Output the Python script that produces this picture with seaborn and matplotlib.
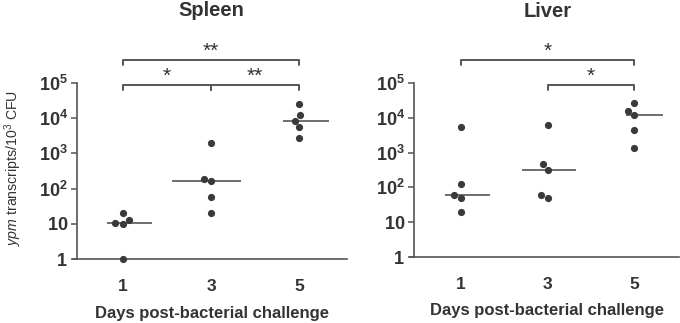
import numpy as np
import pandas as pd
import matplotlib
matplotlib.use("Agg")
import matplotlib.pyplot as plt
import matplotlib.transforms as mtransforms
import seaborn as sns

# values (ypm transcripts / 10^3 CFU)
days = [1, 3, 5]
spleen_d1 = [20.6, 10.7, 9.8, 12.8, 1.0]
spleen_d3 = [2000, 164, 182, 57, 20]
spleen_d5 = [26000, 12000, 8500, 5700, 2700]
liver_d1 = [5300, 123, 61, 50, 20]
liver_d3 = [6100, 470, 316, 50, 61]
liver_d5 = [27000, 15800, 12300, 4400, 1400]

ytick_vals = [1, 10, 100, 1000, 10000, 100000]
ytick_labels = [r"$\mathbf{1}$", r"$\mathbf{10}$", r"$\mathbf{10^2}$",
                r"$\mathbf{10^3}$", r"$\mathbf{10^4}$", r"$\mathbf{10^5}$"]

# significance brackets: (x1, x2, level, stars)
spleen_sig = [(1, 3, "low", "*"), (3, 5, "low", "**"), (1, 5, "high", "**")]
liver_sig = [(3, 5, "low", "*"), (1, 5, "high", "*")]

sns.set_theme(style="white")
plt.rcParams["font.family"] = ["Liberation Sans", "DejaVu Sans"]
plt.rcParams["mathtext.fontset"] = "custom"
plt.rcParams["mathtext.rm"] = "Liberation Sans"
plt.rcParams["mathtext.it"] = "Liberation Sans:italic"
plt.rcParams["mathtext.bf"] = "Liberation Sans:bold"

txt = "#333333"
dot = "#3a3a3a"
line = "#555555"

fig = plt.figure(figsize=(6.8, 3.23), dpi=100)
ax1 = fig.add_axes([77/680, 1-259/323, 270/680, 176/323])
ax2 = fig.add_axes([414/680, 1-257/323, 265/680, 174/323])


def make_df(d1, d3, d5):
    return pd.DataFrame({
        "day": [1]*len(d1) + [3]*len(d3) + [5]*len(d5),
        "val": list(d1) + list(d3) + list(d5),
    })


def panel(ax, df, title, xlim, sig, left_ext):
    ax.set_yscale("log")
    sns.swarmplot(data=df, x="day", y="val", native_scale=True, size=5.2,
                  color=dot, ax=ax, clip_on=False, zorder=3)
    med = df.groupby("day")["val"].median()
    for i, d in enumerate(days):
        ax.hlines(med[d], d - left_ext[i], d + 0.67, color=line, lw=1.2, zorder=2)
    ax.set_ylim(1, 1e5)
    ax.set_xlim(*xlim)
    ax.set_yticks(ytick_vals)
    ax.set_yticklabels(ytick_labels)
    ax.yaxis.set_minor_locator(matplotlib.ticker.NullLocator())
    ax.set_xticks(days)
    ax.set_xticklabels([str(d) for d in days])
    ax.tick_params(axis="y", left=True, length=4.5, width=1.1, color=line,
                   labelsize=13, labelcolor=txt, pad=2)
    ax.tick_params(axis="x", bottom=False, labelsize=12.5, labelcolor=txt, pad=8.5)
    for lab in ax.get_xticklabels():
        lab.set_fontweight("bold")
    for s in ["top", "right"]:
        ax.spines[s].set_visible(False)
    for s in ["left", "bottom"]:
        ax.spines[s].set_color(line)
        ax.spines[s].set_linewidth(1.2)
    ax.spines["bottom"].set_bounds(xlim[0] - 0.1, xlim[1])
    ax.set_xlabel("")
    ax.set_ylabel("")
    ax.text(0.5, -0.31, "Days post-bacterial challenge", transform=ax.transAxes,
            ha="center", va="center", fontsize=12, fontweight="bold", color=txt)
    trans = mtransforms.blended_transform_factory(ax.transData, ax.transAxes)
    ax.text(3, 1.38, title, transform=trans,
            ha="center", va="baseline", fontsize=14.5, fontweight="bold", color=txt)
    levels = {"low": 0.99, "high": 1.132}
    drop = 0.03
    for x1, x2, lev, stars in sig:
        y = levels[lev]
        ax.plot([x1, x1, x2, x2], [y - drop, y, y, y - drop], color=line, lw=1.4,
                transform=trans, clip_on=False)
        ax.text((x1 + x2) / 2, y - 0.005, stars, transform=trans, ha="center", va="bottom",
                fontsize=15, color=txt)


panel(ax1, make_df(spleen_d1, spleen_d3, spleen_d5), "Spleen", (-0.04, 6.08),
      spleen_sig, [0.36, 0.88, 0.36])
panel(ax2, make_df(liver_d1, liver_d3, liver_d5), "Liver", (-0.087, 6.04),
      liver_sig, [0.37, 0.6, 0.18])

ax1.text(-0.237, 0.52, r"$\it{ypm}$ transcripts/10$^3$ CFU", transform=ax1.transAxes,
         rotation=90, ha="center", va="center", fontsize=10.2, color=txt)

fig.savefig("out.png", dpi=100)
